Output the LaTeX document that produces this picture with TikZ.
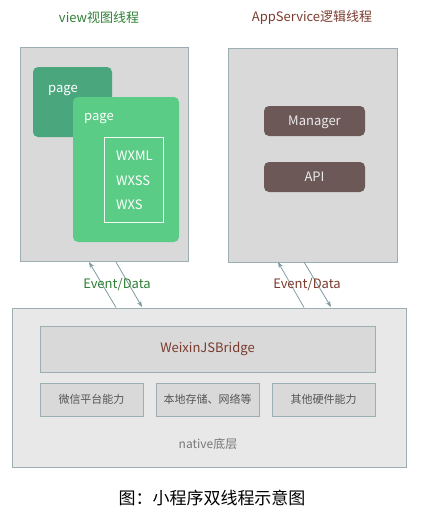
\documentclass[tikz,border=0pt]{standalone}
\usepackage{fontspec}
\setmainfont{Noto Sans CJK SC}
\usetikzlibrary{arrows.meta}
\definecolor{boxgray}{HTML}{D9D9D9}
\definecolor{boxline}{HTML}{9CAEB2}
\definecolor{nativefill}{HTML}{E8E8E8}
\definecolor{pagedark}{HTML}{4AA77D}
\definecolor{pagelight}{HTML}{5BCC85}
\definecolor{mgr}{HTML}{6B5857}
\definecolor{tgreen}{HTML}{2F7F35}
\definecolor{tbrown}{HTML}{7A3B2E}
\definecolor{arrowc}{HTML}{7F9AA0}
\definecolor{textgray}{HTML}{555555}
\tikzset{
  thread/.style={draw=boxline, fill=boxgray, line width=0.9pt, inner sep=0pt},
  pagebox/.style={rounded corners=5pt, inner sep=0pt},
  mgrbox/.style={fill=mgr, rounded corners=5pt, inner sep=0pt, minimum width=101pt, minimum height=30pt, text=white!92!black, font=\fontsize{13}{15}\selectfont},
  txt/.style={inner sep=0pt},
  abil/.style={draw=boxline, fill=boxgray, line width=0.9pt, inner sep=0pt, minimum width=103pt, minimum height=33pt, font=\fontsize{11}{13}\selectfont, text=textgray},
  flow/.style={draw=arrowc, line width=0.8pt, -{Stealth[length=6pt,width=4.5pt]}},
}
\begin{document}
\begin{tikzpicture}[x=1pt,y=-1pt]
\useasboundingbox (0,0) rectangle (426,523);
% titles
\node[txt, text=tgreen, font=\fontsize{13}{15}\selectfont] (t1) at (99,18) {view视图线程};
\node[txt, text=tbrown, font=\fontsize{13}{15}\selectfont] (t2) at (312,18) {AppService逻辑线程};
% thread boxes
\node[thread, minimum width=168pt, minimum height=214pt] (view) at (104,154.5) {};
\node[thread, minimum width=169pt, minimum height=214pt] (app) at (312.5,155) {};
% pages
\node[pagebox, fill=pagedark, minimum width=79pt, minimum height=70pt] (p1) at (72.5,102) {};
\node[txt, anchor=west, text=white, font=\fontsize{13}{15}\selectfont] (p1t) at (48,90.5) {page};
\node[pagebox, fill=pagelight, minimum width=106pt, minimum height=145pt] (p2) at (126,169.5) {};
\node[txt, anchor=west, text=white, font=\fontsize{13}{15}\selectfont] (p2t) at (84,118.5) {page};
\node[draw=white!90!pagelight, line width=0.8pt, minimum width=59pt, minimum height=85pt, inner sep=0pt] (inner) at (133.5,179.5) {};
\node[txt, anchor=west, text=white, font=\fontsize{13}{15}\selectfont] (wxml) at (116,155.5) {WXML};
\node[txt, anchor=west, text=white, font=\fontsize{13}{15}\selectfont] (wxss) at (116,180.5) {WXSS};
\node[txt, anchor=west, text=white, font=\fontsize{13}{15}\selectfont] (wxs) at (116,204.5) {WXS};
% manager/api
\node[mgrbox, text depth=1pt] (mg) at (314.5,121) {Manager};
\node[mgrbox, text depth=0pt] (api) at (314.5,177) {API};
% native
\node[draw=boxline, fill=nativefill, line width=0.9pt, minimum width=394pt, minimum height=159pt, inner sep=0pt] (native) at (209,387.5) {};
\node[draw=boxline, fill=boxgray, line width=0.9pt, minimum width=335pt, minimum height=46pt, inner sep=0pt, text=tbrown, font=\fontsize{13}{15}\selectfont] (bridge) at (207.5,349) {WeixinJSBridge};
\node[abil] (a1) at (91.5,399.5) {微信平台能力};
\node[abil] (a2) at (207.5,399.5) {本地存储、网络等};
\node[abil] (a3) at (323.5,399.5) {其他硬件能力};
\node[txt, text=textgray!80, font=\fontsize{12}{14}\selectfont] (nat) at (208,444) {native底层};
% caption
\node[txt, font=\fontsize{17}{19}\selectfont] (caption) at (212,498) {图：小程序双线程示意图};
% arrows
\coordinate (lu0) at (116,307.5);
\coordinate (lu1) at (89,262);
\coordinate (ld0) at (116,262);
\coordinate (ld1) at (142,307);
\coordinate (ru0) at (304,307.5);
\coordinate (ru1) at (278,262);
\coordinate (rd0) at (304,262);
\coordinate (rd1) at (331,307);
\draw[flow] (lu0) -- (lu1);
\draw[flow] (ld0) -- (ld1);
\draw[flow] (ru0) -- (ru1);
\draw[flow] (rd0) -- (rd1);
\node[txt, text=tgreen, font=\fontsize{13}{15}\selectfont] (e1) at (117,284) {Event/Data};
\node[txt, text=tbrown, font=\fontsize{13}{15}\selectfont] (e2) at (307,284) {Event/Data};
\end{tikzpicture}
\end{document}
